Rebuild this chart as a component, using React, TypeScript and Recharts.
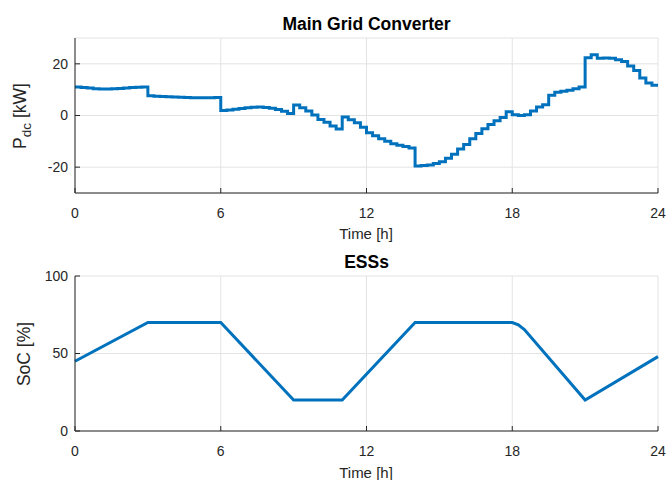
import { LineChart, Line, XAxis, YAxis, CartesianGrid } from 'recharts';

// Main grid converter DC power, one reading per 15 min (0h .. 24h)
const stepHours = 0.25;
const pdcKw = [
  11.0, 10.8, 10.6, 10.4, 10.3, 10.3, 10.4, 10.5, 10.6, 10.8, 10.9, 11.0,
  7.6, 7.5, 7.4, 7.3, 7.2, 7.1, 7.0, 6.9, 6.9, 6.9, 6.9, 7.0,
  1.9, 2.1, 2.4, 2.7, 3.0, 3.2, 3.3, 3.1, 2.8, 2.3, 1.6, 0.8,
  4.1, 3.0, 1.7, 0.2, -1.5, -2.6, -4.1, -5.2, -0.6, -1.6, -2.8, -4.5,
  -6.7, -7.8, -9.0, -10.0, -10.9, -11.5, -12.0, -12.6, -19.5, -19.4, -19.2, -18.6,
  -17.9, -16.5, -15.0, -13.0, -11.2, -9.0, -7.0, -5.1, -3.5, -2.0, -0.8, 1.5,
  0.3, 0.0, 0.3, 1.7, 3.3, 4.2, 7.8, 9.0, 9.4, 9.8, 10.4, 11.0,
  22.4, 23.5, 22.2, 22.3, 22.2, 21.6, 20.9, 19.2, 17.4, 14.5, 12.6, 11.7,
  11.7,
];

// ESS state of charge, breakpoints
const socHours = [0, 3, 6, 9, 11, 14, 18, 18.25, 18.5, 21, 24];
const socPct = [45, 70, 70, 20, 20, 70, 70, 68.5, 65.5, 20, 48];

const xTicks = [0, 6, 12, 18, 24];
const pdcTicks = [-20, 0, 20];
const socTicks = [0, 50, 100];

const FONT = '"Liberation Sans", Arial, Helvetica, sans-serif';
const INK = '#262626';
const BLUE = '#0072BD';
const GRID = '#e3e3e3';

const pdcData = pdcKw.map((p, i) => ({ t: i * stepHours, p }));
const socData = socHours.map((t, i) => ({ t, soc: socPct[i] }));

const tickStyle = { fontSize: 14, fill: INK, fontFamily: FONT };

function TimeLabel({ baseline }: { baseline: number }) {
  return (
    <text x={366} y={baseline} textAnchor="middle" fontSize={15} fill={INK} fontFamily={FONT}>
      Time [h]
    </text>
  );
}

function PdcLabel() {
  return (
    <text
      x={26}
      y={116}
      transform="rotate(-90, 26, 116)"
      textAnchor="middle"
      fontSize={17.5}
      fill={INK}
      fontFamily={FONT}
    >
      <tspan>P</tspan>
      <tspan dy={5} fontSize={13.5}>dc</tspan>
      <tspan dy={-5}> [kW]</tspan>
    </text>
  );
}

function SocLabel() {
  return (
    <text
      x={30}
      y={104}
      transform="rotate(-90, 30, 104)"
      textAnchor="middle"
      fontSize={17.5}
      fill={INK}
      fontFamily={FONT}
    >
      SoC [%]
    </text>
  );
}

const titleStyle: React.CSSProperties = {
  position: 'absolute',
  left: 75,
  width: 583,
  textAlign: 'center',
  fontFamily: FONT,
  fontWeight: 'bold',
  fontSize: 17.5,
  color: '#000',
  lineHeight: '18px',
};

export default function App() {
  return (
    <div style={{ position: 'absolute', left: 0, top: 0, width: 667, height: 480, background: '#fff', overflow: 'hidden' }}>
      <div style={{ ...titleStyle, top: 15 }}>Main Grid Converter</div>
      <div style={{ ...titleStyle, top: 253 }}>ESSs</div>

      <div style={{ position: 'absolute', left: 0, top: 0 }}>
        <LineChart width={667} height={250} data={pdcData} margin={{ top: 38, right: 9, left: 0, bottom: 0 }}>
          <CartesianGrid stroke={GRID} strokeWidth={1} />
          <XAxis
            dataKey="t"
            type="number"
            domain={[0, 24]}
            ticks={xTicks}
            height={57}
            stroke={INK}
            tickSize={-5}
            tickMargin={20}
            tick={tickStyle}
            label={<TimeLabel baseline={239} />}
          />
          <XAxis xAxisId="top" orientation="top" type="number" domain={[0, 24]} ticks={xTicks} height={0} stroke={INK} tickSize={-5} tick={false} />
          <YAxis
            type="number"
            domain={[-30, 30]}
            ticks={pdcTicks}
            width={75}
            stroke={INK}
            tickSize={-5}
            tickMargin={12}
            tick={tickStyle}
            label={<PdcLabel />}
          />
          <YAxis yAxisId="right" orientation="right" type="number" domain={[-30, 30]} ticks={pdcTicks} width={0} stroke={INK} tickSize={-5} tick={false} />
          <Line type="stepAfter" dataKey="p" stroke={BLUE} strokeWidth={3} dot={false} isAnimationActive={false} />
        </LineChart>
      </div>

      <div style={{ position: 'absolute', left: 0, top: 250 }}>
        <LineChart width={667} height={230} data={socData} margin={{ top: 26, right: 9, left: 0, bottom: 0 }}>
          <CartesianGrid stroke={GRID} strokeWidth={1} />
          <XAxis
            dataKey="t"
            type="number"
            domain={[0, 24]}
            ticks={xTicks}
            height={49}
            stroke={INK}
            tickSize={-5}
            tickMargin={20}
            tick={tickStyle}
            label={<TimeLabel baseline={228} />}
          />
          <XAxis xAxisId="top" orientation="top" type="number" domain={[0, 24]} ticks={xTicks} height={0} stroke={INK} tickSize={-5} tick={false} />
          <YAxis
            type="number"
            domain={[0, 100]}
            ticks={socTicks}
            width={75}
            stroke={INK}
            tickSize={-5}
            tickMargin={12}
            tick={tickStyle}
            label={<SocLabel />}
          />
          <YAxis yAxisId="right" orientation="right" type="number" domain={[0, 100]} ticks={socTicks} width={0} stroke={INK} tickSize={-5} tick={false} />
          <Line type="linear" dataKey="soc" stroke={BLUE} strokeWidth={3} dot={false} isAnimationActive={false} />
        </LineChart>
      </div>
    </div>
  );
}
